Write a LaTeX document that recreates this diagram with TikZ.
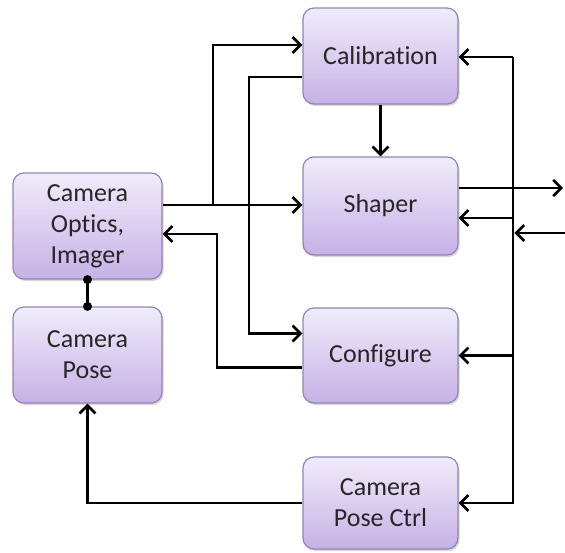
\documentclass[tikz,border=0pt]{standalone}
\usepackage{fontspec}
\setmainfont{Carlito}[Ligatures={NoCommon}]
\usetikzlibrary{arrows.meta,shadows}

\definecolor{boxtop}{HTML}{F0ECFA}
\definecolor{boxbot}{HTML}{C6B1E6}
\definecolor{boxline}{HTML}{9484B4}
\definecolor{boxtext}{HTML}{262626}

\begin{document}
\begin{tikzpicture}[x=1pt, y=-1pt,
  block/.style={draw=boxline, line width=1.2pt, rounded corners=11pt,
    top color=boxtop, bottom color=boxbot, align=center, text=boxtext,
    font=\fontsize{26}{31}\selectfont, inner sep=0pt,
    drop shadow={shadow xshift=1.5pt, shadow yshift=-2pt, fill=black!35, opacity=0.45}},
  wire/.style={line width=2.8pt},
  link/.style={wire, -{Straight Barb[length=8pt, width=16pt, line width=2.6pt]}}]

  \useasboundingbox (0,0) rectangle (565,552);

  % --- Blocks ---
  \node[block, minimum width=149pt, minimum height=106pt] (optics) at (87.5,226) {Camera\\Optics,\\Imager};
  \node[block, minimum width=149pt, minimum height=96pt] (pose) at (87.5,355) {Camera\\Pose};
  \node[block, minimum width=155pt, minimum height=96pt] (calib) at (380.5,56) {Calibration};
  \node[block, minimum width=155pt, minimum height=98pt] (shaper) at (380.5,206) {Shaper};
  \node[block, minimum width=155pt, minimum height=95pt] (config) at (380.5,355.5) {Configure};
  \node[block, minimum width=155pt, minimum height=92pt] (posectrl) at (380.5,503) {Camera\\Pose Ctrl};

  % --- Turning points ---
  \coordinate (splitA) at (213,205);
  \coordinate (feedB) at (249,200);
  \coordinate (feedC) at (217,300);
  \coordinate (bustop) at (513,57);
  \coordinate (outR) at (563,188);
  \coordinate (inR) at (565,233);

  % --- Optics to shaper and calibration ---
  \draw[link] (optics.east |- splitA) -- (shaper.west |- splitA);
  \draw[link] (splitA) |- ([yshift=11pt]calib.west);
  \draw[link] (calib.south) -- (shaper.north);

  % --- Calibration to configure, configure back to optics ---
  \draw[link] ([yshift=-21pt]calib.west) -| (feedB) |- ([yshift=22pt]config.west);
  \draw[link] ([yshift=-12pt]config.west) -| (feedC) |- ([yshift=-8pt]optics.east);

  % --- Optics joined to pose ---
  \draw[wire] (optics.south) -- (pose.north);
  \fill (optics.south) circle (4.5pt);
  \fill (pose.north) circle (4.5pt);

  % --- Right bus ---
  \draw[link] (bustop) |- (posectrl.east);
  \draw[link] (bustop) -- (calib.east |- bustop);
  \draw[link] ([yshift=-12pt]shaper.east -| bustop) -- ([yshift=-12pt]shaper.east);
  \draw[link] (config.east -| bustop) -- (config.east);

  % --- Outside in and out ---
  \draw[link] ([yshift=18pt]shaper.east) -- ([yshift=18pt]shaper.east -| outR);
  \draw[link, shorten >=1.4pt] (inR) -- (inR -| bustop);

  % --- Pose control to pose ---
  \draw[link] (posectrl.west) -| (pose.south);
\end{tikzpicture}
\end{document}
